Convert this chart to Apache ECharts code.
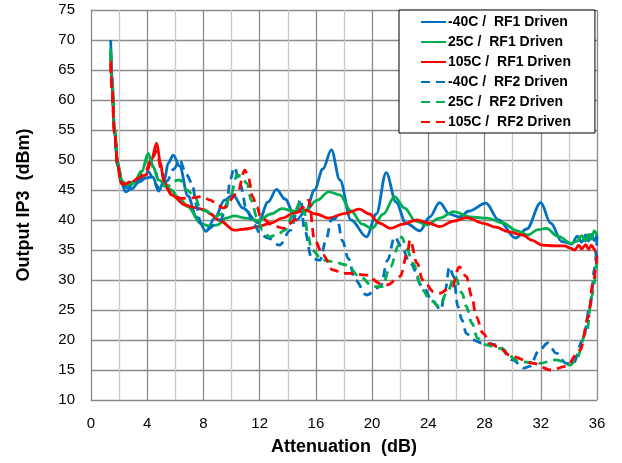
<!DOCTYPE html>
<html><head><meta charset="utf-8">
<script src="https://cdn.jsdelivr.net/npm/echarts@6/dist/echarts.min.js"></script>
<style>html,body{margin:0;padding:0;background:#fff}#c{width:622px;height:463px}</style>
</head><body><div id="c"></div>
<script>
const seriesNames = ["-40C /  RF1 Driven","25C /  RF1 Driven","105C /  RF1 Driven","-40C /  RF2 Driven","25C /  RF2 Driven","105C /  RF2 Driven"];
const xTicks = {min:0,max:36,interval:4};
const yTicks = {min:10,max:75,interval:5};

const blueRF1 = [[1.4,70],[1.5,64],[1.66,55],[1.9,49],[2.2,46],[2.45,44.7],[2.9,45.2],[3.4,46.3],[3.9,47],[4.4,47.2],[4.8,44.8],[5.2,46.5],[5.5,49.5],[5.85,50.8],[6.3,49],[6.9,44],[7.5,40.5],[8.2,38.1],[8.8,40.3],[9.5,43.3],[10.1,44.2],[10.8,42],[11.9,39.5],[12.6,43],[13.2,45.1],[13.8,43.5],[14.6,40],[15.3,41.5],[15.9,45],[16.5,48.5],[17.1,51.7],[17.7,46.7],[18.5,40],[19.6,37.2],[20.3,41],[21.0,47.9],[21.7,43],[22.4,39.5],[23.4,38.2],[24.1,40.5],[24.8,42.9],[25.5,41],[26.2,40.5],[26.9,41.5],[28.1,42.8],[29,40],[30.2,37],[31,38.5],[32,42.9],[32.7,39.5],[33.5,36.4],[34.2,36],[34.6,37.3],[34.9,36.3],[35.2,37.5],[35.4,36.5],[35.6,37.6],[35.8,36.6],[36,37.5]];
const greenRF1 = [[1.4,68.5],[1.5,63],[1.66,55.5],[1.9,49.5],[2.2,46.5],[2.6,45.5],[3.1,46.2],[3.6,48],[4.07,51.1],[4.4,49],[4.8,46.7],[5.2,46.2],[5.7,45],[6.3,43.5],[6.9,42.2],[7.8,39.4],[8.4,39],[9,39.2],[9.6,40.3],[10.2,40.7],[11,40.3],[11.9,39.9],[12.8,41],[13.6,41.9],[14.4,41.5],[15.2,41.4],[16.1,43.3],[16.9,44.7],[17.7,44.2],[18.5,41.5],[19.3,39.3],[20,38.6],[20.8,41],[21.6,43.9],[22.3,42],[23.1,39.8],[23.9,39.2],[24.8,40.3],[25.8,41.4],[27,40.5],[28.2,40.3],[29.3,39.5],[30.3,38.2],[31.1,37.5],[31.8,38.4],[32.4,38.6],[33.2,37.3],[34.2,36.1],[34.6,36.5],[34.9,37.4],[35.2,36.5],[35.4,37.6],[35.6,36.8],[35.8,38.2],[36,37.5]];
const redRF1 = [[1.4,67],[1.5,62],[1.66,55],[1.9,49.4],[2.13,46.1],[2.4,45.8],[2.9,46.3],[3.4,47],[3.9,47.5],[4.3,50],[4.67,52.8],[4.95,49.5],[5.15,46.7],[5.7,44.2],[6.7,42.5],[7.3,42.1],[8.1,41.7],[8.5,41],[9.1,40],[10.2,38.3],[11,38.5],[11.9,38.9],[12.8,39.5],[13.6,40.3],[14.4,41.1],[15.2,41.7],[16,41],[16.9,40.3],[18.1,41.1],[19.1,41.8],[19.8,41],[20.5,39.5],[21.3,38.6],[22.2,39.3],[23.2,40],[24,39.5],[24.8,38.9],[25.8,39.8],[26.7,40.4],[28,39.4],[28.8,38.8],[29.7,38.05],[30.7,37.5],[31.4,36.6],[32.1,35.8],[33.0,35.7],[33.7,35.7],[34.1,35.3],[34.4,35],[34.7,35.8],[34.9,35.2],[35.2,35.9],[35.4,35.1],[35.6,35.8],[35.8,35.2],[36,33.8]];
const blueRF2 = [[1.4,68],[1.5,63],[1.66,55],[1.9,49],[2.2,46.3],[2.6,45.3],[3.1,46],[3.6,47],[4.1,48],[4.55,46.1],[4.9,45.2],[5.4,46.5],[5.9,48.5],[6.3,50],[6.8,47.5],[7.2,46.1],[7.5,42.5],[7.8,39.4],[8.3,38.5],[9.2,40],[9.65,42.2],[9.9,46.7],[10.2,48.8],[10.6,46],[11.1,41.5],[11.6,39.2],[12.1,37.5],[12.6,37],[13.4,35.8],[14.2,38.3],[14.6,41],[14.9,43.5],[15.2,38.3],[15.7,33.6],[16.3,33.3],[16.7,36.5],[17.1,40],[17.5,40.3],[17.9,36.5],[18.3,33.6],[18.8,30],[19.6,27.5],[20.6,28.9],[21.1,33.3],[21.6,37.2],[22.1,35.5],[22.7,32.8],[23.6,28.9],[24.3,26.5],[24.9,25],[25.2,28.3],[25.5,32.2],[25.8,30.6],[26.1,25.6],[26.4,23.3],[26.7,21.1],[27.2,20],[27.8,19.5],[28.9,19.2],[30,16.7],[30.8,15.3],[31.2,15.6],[31.9,18.3],[32.5,19.5],[33.1,17.8],[33.8,16.1],[34.3,16.1],[35,20],[35.5,25.6],[35.85,32.2],[36,37.2]];
const greenRF2 = [[1.4,68],[1.5,63],[1.66,55.5],[1.9,49.5],[2.2,46.5],[2.6,45.8],[3.1,46.4],[3.6,48.2],[4.1,50.8],[4.5,48.5],[4.9,46],[5.4,45.5],[5.9,46.5],[6.3,46.7],[6.8,45],[7.4,43.9],[7.8,41.7],[8.2,41.5],[8.75,40.5],[9.3,41],[9.9,43.9],[10.4,47.5],[10.7,47.3],[11.1,46.1],[11.4,43.3],[11.8,40.5],[12.2,38.3],[12.7,37.2],[13.2,37.5],[13.8,38.3],[14.4,41],[14.9,43],[15.2,41.1],[15.4,37.8],[15.7,35],[16.5,33.3],[17.2,33.05],[18.2,32.5],[19.1,30.6],[20.1,28.9],[20.7,28.9],[21.3,32.2],[21.9,35.8],[22.1,37.2],[22.5,35],[22.9,32.8],[23.6,28.3],[24.1,26.7],[24.8,25.6],[25.3,27.8],[25.9,30.6],[26.4,27.8],[26.7,25.6],[27.1,22.8],[27.5,20.3],[28.1,19.2],[29.1,18.6],[30.5,16.4],[31.9,16.1],[33.1,16.7],[34.1,15.8],[34.5,16.7],[35.3,21.7],[35.6,27.2],[36,33.3]];
const redRF2 = [[1.4,66],[1.5,61],[1.66,54.5],[1.9,49],[2.13,46.3],[2.4,46],[2.9,46.5],[3.4,47],[3.8,47.8],[4.3,50],[4.67,51.5],[5.0,48.5],[5.3,45.5],[5.8,44.2],[6.45,43.6],[7.2,43.7],[7.9,43.9],[8.5,43.3],[9.0,42.5],[9.4,42],[10.4,44.4],[10.95,48.3],[11.2,47],[11.5,43.9],[11.8,42.2],[12.1,40.3],[13.1,38.9],[13.8,38.6],[14.5,40],[15.0,42],[15.5,43.3],[15.9,36.7],[16.5,34.2],[17.2,31.7],[17.95,31.1],[18.4,31.1],[19.6,30.8],[20.6,29.4],[21.1,29.2],[22,30.6],[22.5,34.4],[22.7,36.7],[23.2,32.8],[23.6,30],[24.4,28],[24.8,27.8],[25.7,28.9],[26.2,32.2],[26.7,30.6],[27.1,27.2],[27.4,23.9],[27.9,21.1],[28.4,19.4],[28.9,18.9],[30,17.2],[31.5,16.1],[32.7,15],[33.8,15.6],[34.8,18.3],[35.4,23.9],[35.7,29.4],[36,33.9]];

const colors = ["#0070C0","#00B050","#FF0000","#0070C0","#00B050","#FF0000"];
const datasets = [blueRF1, greenRF1, redRF1, blueRF2, greenRF2, redRF2];

const chart = echarts.init(document.getElementById('c'), null, {renderer:'canvas'});
const series = datasets.map((d,i)=>({
  name: seriesNames[i],
  type:'line',
  data:d,
  symbol:'none',
  smooth:0.35,
  smoothMonotone:'x',
  z: i<3 ? 3 : 4,
  lineStyle:{color:colors[i], width:2.8, type: i<3 ? 'solid' : [9,6]},
  itemStyle:{color:colors[i]}
}));

chart.setOption({
  animation:false,
  backgroundColor:'#fff',
  grid:{left:91, right:25, top:10, bottom:63, containLabel:false, show:false},
  legend:{
    orient:'vertical', left:399, top:10,
    backgroundColor:'#fff', borderColor:'#000', borderWidth:1,
    padding:[5,24,4,21], itemGap:6, itemWidth:25, itemHeight:14,
    itemStyle:{opacity:0, color:'rgba(0,0,0,0)', borderColor:'rgba(0,0,0,0)', borderWidth:0},
    textStyle:{fontFamily:'Liberation Sans, Arial', fontWeight:'bold', fontSize:14, color:'#000', padding:[0,0,0,-3]},
    data: seriesNames
  },
  xAxis:{
    type:'value', min:xTicks.min, max:xTicks.max, interval:xTicks.interval,
    name:'Attenuation  (dB)', nameLocation:'middle', nameGap:38,
    nameTextStyle:{fontFamily:'Liberation Sans, Arial', fontWeight:'bold', fontSize:18, color:'#000'},
    axisLine:{show:true, onZero:false, lineStyle:{color:'#888', width:1}},
    axisTick:{show:false},
    axisLabel:{fontFamily:'Liberation Sans, Arial', fontSize:15, color:'#000', margin:16},
    splitLine:{show:true, lineStyle:{color:'#8c8c8c', width:1.3}},
    minorTick:{show:false, splitNumber:2},
    minorSplitLine:{show:true, lineStyle:{color:'#c8c8c8', width:1.3}}
  },
  yAxis:{
    type:'value', min:yTicks.min, max:yTicks.max, interval:yTicks.interval,
    name:'Output IP3  (dBm)', nameLocation:'middle', nameGap:58,
    nameTextStyle:{fontFamily:'Liberation Sans, Arial', fontWeight:'bold', fontSize:18, color:'#000'},
    axisLine:{show:true, lineStyle:{color:'#888', width:1}},
    axisTick:{show:false},
    axisLabel:{fontFamily:'Liberation Sans, Arial', fontSize:15, color:'#000', margin:16},
    splitLine:{show:true, lineStyle:{color:'#8c8c8c', width:1.3}}
  },
  series: series
});
</script></body></html>
